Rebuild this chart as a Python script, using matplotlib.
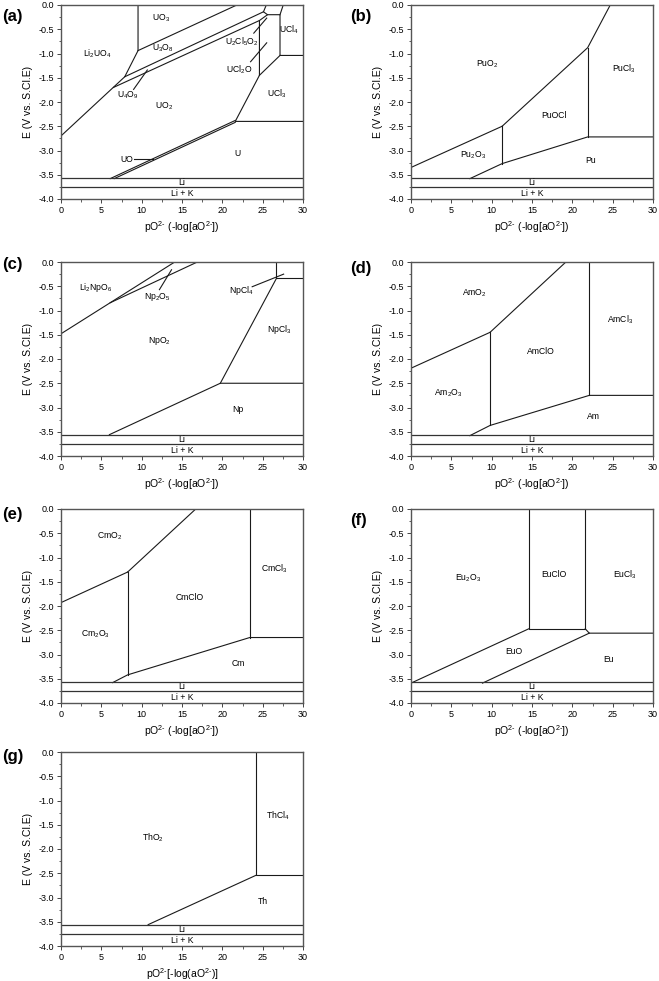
import matplotlib
matplotlib.use("Agg")
import matplotlib.pyplot as plt
from matplotlib.ticker import MultipleLocator

plt.rcParams['font.family'] = ['Liberation Sans', 'DejaVu Sans']
plt.rcParams['mathtext.fontset'] = 'custom'
plt.rcParams['mathtext.rm'] = 'Liberation Sans'
plt.rcParams['mathtext.it'] = 'Liberation Sans'
plt.rcParams['mathtext.default'] = 'regular'

# solvent limits (V vs. S.Cl.E)
li_limit = -3.57
lik_limit = -3.76

# ---- (a) uranium ----
a_lines = [
    ([0, 7.9, 9.55, 9.55], [-2.70, -1.48, -0.94, 0.0]),
    ([9.55, 21.8], [-0.94, 0.0]),
    ([7.9, 25.1, 25.45], [-1.48, -0.14, 0.0]),
    ([6.5, 24.6, 24.6, 21.6, 30], [-1.70, -0.32, -1.45, -2.40, -2.40]),
    ([24.6, 25.6, 27.15, 27.15, 30], [-0.32, -0.20, -0.20, -1.04, -1.04]),
    ([25.1, 25.6], [-0.14, -0.20]),
    ([27.15, 27.55], [-0.20, 0.0]),
    ([24.6, 27.15], [-1.45, -1.04]),
    ([6.1, 21.6], [-3.58, -2.38]),
    ([6.6, 21.6], [-3.58, -2.42]),
    # leader lines
    ([9.0, 10.7], [-1.74, -1.34]),
    ([9.1, 11.4], [-3.18, -3.18]),
    ([23.9, 25.5], [-0.58, -0.27]),
    ([23.5, 25.5], [-1.17, -0.78]),
]
a_labels = [
    ('UO$_3$', 12.4, -0.27), ('U$_3$O$_8$', 12.6, -0.89),
    ('Li$_2$UO$_4$', 4.5, -1.0), ('U$_4$O$_9$', 8.3, -1.86),
    ('UO$_2$', 12.8, -2.08), ('U$_2$Cl$_5$O$_2$', 22.4, -0.76),
    ('UCl$_2$O', 22.1, -1.34), ('UCl$_4$', 28.3, -0.51),
    ('UCl$_3$', 26.7, -1.82), ('UO', 8.2, -3.18), ('U', 21.9, -3.07),
]

# ---- (b) plutonium ----
b_lines = [
    ([0, 11.3], [-3.35, -2.50]),
    ([11.3, 21.9, 24.7], [-2.50, -0.88, 0.0]),
    ([11.3, 11.3], [-2.50, -3.27]),
    ([7.3, 11.3, 21.9, 30], [-3.58, -3.27, -2.72, -2.72]),
    ([21.9, 21.9], [-0.88, -2.72]),
]
b_labels = [
    ('PuO$_2$', 9.5, -1.22), ('PuOCl', 17.7, -2.28), ('PuCl$_3$', 26.4, -1.32),
    ('Pu$_2$O$_3$', 7.7, -3.09), ('Pu', 22.3, -3.2),
]

# ---- (c) neptunium ----
c_lines = [
    ([0, 14.1], [-1.48, 0.0]),
    ([6.1, 16.9], [-0.84, 0.0]),
    ([26.7, 26.7, 30], [0.0, -0.34, -0.34]),
    ([19.75, 26.7], [-2.50, -0.34]),
    ([6.0, 19.75, 30], [-3.56, -2.50, -2.50]),
    # leader lines
    ([12.2, 13.7], [-0.57, -0.16]),
    ([23.7, 27.6], [-0.51, -0.25]),
]
c_labels = [
    ('Li$_2$NpO$_6$', 4.3, -0.52), ('Np$_2$O$_5$', 11.9, -0.72),
    ('NpCl$_4$', 22.3, -0.59), ('NpO$_2$', 12.2, -1.63),
    ('NpCl$_3$', 27.1, -1.39), ('Np', 21.9, -3.05),
]

# ---- (d) americium ----
d_lines = [
    ([0, 9.8], [-2.19, -1.45]),
    ([9.8, 19.2], [-1.45, 0.0]),
    ([9.8, 9.8], [-1.45, -3.37]),
    ([7.3, 9.8, 22.1, 30], [-3.58, -3.37, -2.75, -2.75]),
    ([22.1, 22.1], [0.0, -2.75]),
]
d_labels = [
    ('AmO$_2$', 7.9, -0.64), ('AmCl$_3$', 25.9, -1.2), ('AmClO', 16.1, -1.85),
    ('Am$_2$O$_3$', 4.6, -2.69), ('Am', 22.6, -3.19),
]

# ---- (e) curium ----
e_lines = [
    ([0, 8.26], [-1.93, -1.30]),
    ([8.26, 16.7], [-1.30, 0.0]),
    ([8.26, 8.26], [-1.30, -3.42]),
    ([6.4, 8.26, 23.4, 30], [-3.58, -3.42, -2.65, -2.65]),
    ([23.4, 23.4], [0.0, -2.65]),
]
e_labels = [
    ('CmO$_2$', 6.0, -0.56), ('CmCl$_3$', 26.4, -1.23), ('CmClO', 16.0, -1.83),
    ('Cm$_2$O$_3$', 4.3, -2.58), ('Cm', 22.0, -3.18),
]

# ---- (f) europium ----
f_lines = [
    ([14.6, 14.6, 21.6, 21.6], [0.0, -2.47, -2.47, 0.0]),
    ([21.6, 22.1, 30], [-2.47, -2.56, -2.56]),
    ([0, 14.6], [-3.59, -2.47]),
    ([8.86, 22.1], [-3.59, -2.56]),
]
f_labels = [
    ('Eu$_2$O$_3$', 7.1, -1.43), ('EuClO', 17.7, -1.35), ('EuCl$_3$', 26.5, -1.35),
    ('EuO', 12.7, -2.94), ('Eu', 24.5, -3.10),
]

# ---- (g) thorium ----
g_lines = [
    ([24.2, 24.2, 30], [0.0, -2.54, -2.54]),
    ([10.8, 24.2], [-3.56, -2.54]),
]
g_labels = [
    ('ThO$_2$', 11.4, -1.76), ('ThCl$_4$', 26.9, -1.32), ('Th', 25.0, -3.08),
]

xlabel_std = r'pO$^{2\text{-}}$ (-log[aO$^{2\text{-}}$])'
xlabel_th = r'pO$^{2\text{-}}$[-log(aO$^{2\text{-}}$)]'

W, H = 659, 981
fig = plt.figure(figsize=(W / 100, H / 100), dpi=100)

# axes boxes in pixels: (left, top)
col_x = [61, 411]
row_top = [5, 262, 509, 752]
ax_w, ax_h = 242, 194

panels = [
    ('(a)', a_lines, a_labels, 0, 0, xlabel_std, (12, 17)),
    ('(b)', b_lines, b_labels, 1, 0, xlabel_std, (361, 16)),
    ('(c)', c_lines, c_labels, 0, 1, xlabel_std, (12, 264)),
    ('(d)', d_lines, d_labels, 1, 1, xlabel_std, (361, 268)),
    ('(e)', e_lines, e_labels, 0, 2, xlabel_std, (12, 515)),
    ('(f)', f_lines, f_labels, 1, 2, xlabel_std, (359, 520)),
    ('(g)', g_lines, g_labels, 0, 3, xlabel_th, (13, 756)),
]

line_col = '#1a1a1a'
for letter, lines, labels, col, row, xlab, lpos in panels:
    left = col_x[col] / W
    bottom = 1 - (row_top[row] + ax_h) / H
    ax = fig.add_axes([left, bottom, ax_w / W, ax_h / H])

    for xs, ys in lines:
        ax.plot(xs, ys, color=line_col, lw=0.8)
    ax.axhline(li_limit, color='#333333', lw=0.9)
    ax.axhline(lik_limit, color='#333333', lw=0.9)
    ax.text(15, (li_limit + lik_limit) / 2, 'Li', ha='center', va='center', fontsize=6.2)
    ax.text(15, (lik_limit - 4.0) / 2, 'Li + K', ha='center', va='center', fontsize=6.2)

    for txt, x, y in labels:
        ax.text(x, y, txt, ha='center', va='center', fontsize=6.2)

    ax.set_xlim(0, 30)
    ax.set_ylim(-4.0, 0.0)
    ax.xaxis.set_major_locator(MultipleLocator(5))
    ax.xaxis.set_minor_locator(MultipleLocator(2.5))
    ax.yaxis.set_major_locator(MultipleLocator(0.5))
    ax.yaxis.set_minor_locator(MultipleLocator(0.25))
    ax.yaxis.set_major_formatter(plt.FormatStrFormatter('%.1f'))
    ax.tick_params(which='major', length=3, width=0.7, labelsize=6.5, pad=2, color='#444444')
    ax.tick_params(which='minor', length=1.8, width=0.6, color='#444444')
    for sp in ax.spines.values():
        sp.set_color('#555555')
        sp.set_linewidth(1.0)
    ax.set_xlabel(xlab, fontsize=7.5, labelpad=3)
    ax.set_ylabel('E (V vs. S.Cl.E)', fontsize=7.5, labelpad=4)

    fig.text(lpos[0] / W, 1 - lpos[1] / H, letter, ha='center', va='center',
             fontsize=12, fontweight='bold')

fig.savefig('out.png', dpi=100)
